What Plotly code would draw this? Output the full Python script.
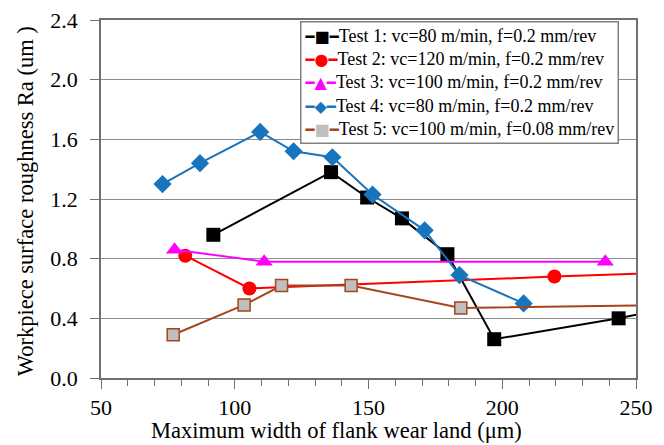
import plotly.graph_objects as go

# Data
t1_x = [92, 136, 149.5, 162.5, 179.5, 197, 243.5, 265]
t1_y = [0.96, 1.38, 1.21, 1.07, 0.83, 0.26, 0.40, 0.48]
t2_x = [81.5, 105.5, 219.5, 270]
t2_y = [0.82, 0.60, 0.68, 0.71]
t3_x = [77.5, 111, 238.5]
t3_y = [0.86, 0.78, 0.78]
t4_x = [73, 87, 109.5, 122, 136.5, 151.5, 171, 184, 208]
t4_y = [1.30, 1.44, 1.65, 1.52, 1.48, 1.23, 0.99, 0.69, 0.50]
t5_x = [77, 103.5, 117.5, 143.5, 184.5, 270]
t5_y = [0.29, 0.49, 0.62, 0.62, 0.47, 0.49]

names = [
    "Test 1: vc=80 m/min, f=0.2 mm/rev",
    "Test 2: vc=120 m/min, f=0.2 mm/rev",
    "Test 3: vc=100 m/min, f=0.2 mm/rev",
    "Test 4: vc=80 m/min, f=0.2 mm/rev",
    "Test 5: vc=100 m/min, f=0.08 mm/rev",
]

y_ticks = [0.0, 0.4, 0.8, 1.2, 1.6, 2.0, 2.4]
x_ticks = [50, 100, 150, 200, 250]

FONT = "Liberation Serif"

series = [
    (t1_x, t1_y, "black", "square", 14, "black", "■"),
    (t2_x, t2_y, "#FF0000", "circle", 14, "#FF0000", "●"),
    (t3_x, t3_y, "#FF00FF", "triangle-up", 15, "#FF00FF", "▲"),
    (t4_x, t4_y, "#1874BC", "diamond", 14, "#1874BC", "◆"),
    (t5_x, t5_y, "#A3461C", "square", 12, "#BFBFBF", "■"),
]

fig = go.Figure()
legend_rows = []
for (xs, ys, lc, sym, sz, fc, glyph), nm in zip(series, names):
    mk = dict(symbol=sym, size=sz, color=fc)
    if fc != lc:
        mk["line"] = dict(color=lc, width=1.5)
    fig.add_trace(go.Scatter(x=xs, y=ys, name=nm, mode="lines+markers",
                             line=dict(color=lc, width=2), marker=mk, showlegend=False))
    legend_rows.append(
        f'<span style="font-family:DejaVu Sans;font-size:15px;color:{lc}">━</span>'
        f'<span style="font-family:DejaVu Sans;font-size:16px;color:{fc}">{glyph}</span>'
        f'<span style="font-family:DejaVu Sans;font-size:15px;color:{lc}">━</span>'
        f'{nm}'
    )

fig.update_layout(
    width=656, height=437,
    margin=dict(l=93, r=28, t=12, b=67, autoexpand=False),
    paper_bgcolor="white", plot_bgcolor="white",
    font=dict(family=FONT, color="black", size=22),
    showlegend=False,
    annotations=[
        dict(text="<br>".join(legend_rows), xref="paper", yref="paper",
             x=0.372, y=0.997, xanchor="left", yanchor="top", align="left",
             showarrow=False, bgcolor="white", bordercolor="#808080",
             borderwidth=1.5, borderpad=3,
             font=dict(family=FONT, size=18, color="black")),
        dict(text="Maximum width of flank wear land (μm)", xref="paper", yref="paper",
             x=0.440, y=-0.146, xanchor="center", yanchor="middle", showarrow=False,
             font=dict(family=FONT, size=22.5, color="black")),
        dict(text="Workpiece surface roughness Ra (um )", xref="paper", yref="paper",
             x=-0.142, y=0.494, xanchor="center", yanchor="middle", showarrow=False,
             textangle=-90, font=dict(family=FONT, size=22.5, color="black")),
    ],
)
fig.update_xaxes(
    range=[50, 250], tickvals=x_ticks, ticktext=[str(v) for v in x_ticks],
    showgrid=False, zeroline=False, automargin=False,
    showline=True, linecolor="#707070", linewidth=1.5, mirror=True,
    ticks="outside", ticklen=9, tickcolor="#707070", tickwidth=1,
    minor=dict(dtick=10, ticks="outside", ticklen=6, tickcolor="#707070", tickwidth=1),
    tickfont=dict(family=FONT, size=22), ticklabeloverflow="allow",
)
fig.update_yaxes(
    range=[0, 2.4], tickvals=y_ticks, ticktext=[f"{v:.1f}" for v in y_ticks],
    showgrid=True, gridcolor="#8C8C8C", gridwidth=1, zeroline=False, automargin=False,
    showline=True, linecolor="#707070", linewidth=1.5, mirror=True,
    ticks="outside", ticklen=9, tickcolor="#707070", tickwidth=1,
    tickfont=dict(family=FONT, size=22), ticklabeloverflow="allow", ticklabelstandoff=8,
)

fig.write_html("out.html")
